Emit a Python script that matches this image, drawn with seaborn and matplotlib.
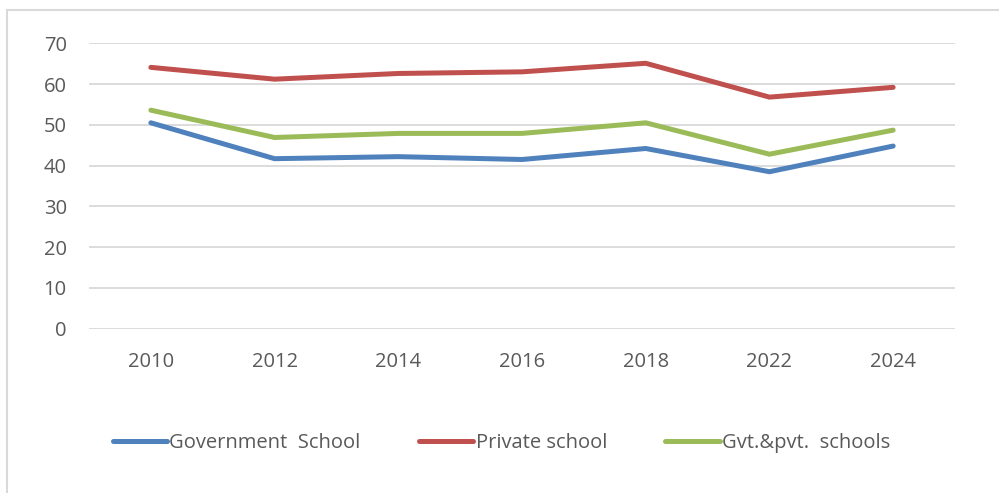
import pandas as pd
import matplotlib.pyplot as plt
import seaborn as sns
from matplotlib.patches import Rectangle

# Values
years = ["2010", "2012", "2014", "2016", "2018", "2022", "2024"]
government = [50.5, 41.7, 42.2, 41.5, 44.2, 38.5, 44.8]
private = [64.1, 61.2, 62.6, 63.0, 65.1, 56.8, 59.2]
combined = [53.6, 46.9, 47.9, 47.9, 50.5, 42.8, 48.7]
series_names = ["Government  School", "Private school", "Gvt.&pvt.  schools"]
colors = ["#4F81BD", "#C0504D", "#9BBB59"]

# Long format table for seaborn
df = pd.DataFrame({
    "year": years * 3,
    "value": government + private + combined,
    "series": [series_names[0]] * 7 + [series_names[1]] * 7 + [series_names[2]] * 7,
})

sns.set_theme(style="white")
plt.rcParams["font.family"] = ["Open Sans", "DejaVu Sans"]

fig = plt.figure(figsize=(9.99, 4.93), dpi=100)
ax = fig.add_axes([89 / 999, 1 - 328.7 / 493, (955 - 89) / 999, (328.7 - 43.3) / 493])

sns.lineplot(data=df, x="year", y="value", hue="series", palette=colors,
             linewidth=3.6, ax=ax, sort=False, legend=False)
for line in ax.lines:
    line.set_solid_capstyle("round")
    line.set_solid_joinstyle("miter")

ax.set_xlim(-0.5, len(years) - 0.5)
ax.set_ylim(0, 70)
ax.set_yticks(range(0, 71, 10))
ax.grid(axis="y", color="#d9d9d9", linewidth=1.3)
ax.grid(axis="x", visible=False)
ax.set_axisbelow(True)
for s in ax.spines.values():
    s.set_visible(False)
ax.tick_params(axis="both", length=0, labelsize=14.5, colors="#595959")
ax.tick_params(axis="y", pad=16)
ax.tick_params(axis="x", pad=17)
ax.set_xlabel("")
ax.set_ylabel("")

# Legend below the plot
handles = [plt.Line2D([], [], color=c, linewidth=3.6, solid_capstyle="round") for c in colors]
fig.legend(handles, series_names, loc="center", bbox_to_anchor=(0.502, 1 - 443 / 493),
           ncol=3, frameon=False, fontsize=14.5, handlelength=2.7,
           handletextpad=0.1, columnspacing=2.9, labelcolor="#595959")

# Chart frame
fig.patches.append(Rectangle((7 / 999, -0.1), 1.2, (493 - 10) / 493 + 0.1,
                             transform=fig.transFigure, fill=False,
                             edgecolor="#d9d9d9", linewidth=1.5))

plt.savefig("out.png", dpi=100)
